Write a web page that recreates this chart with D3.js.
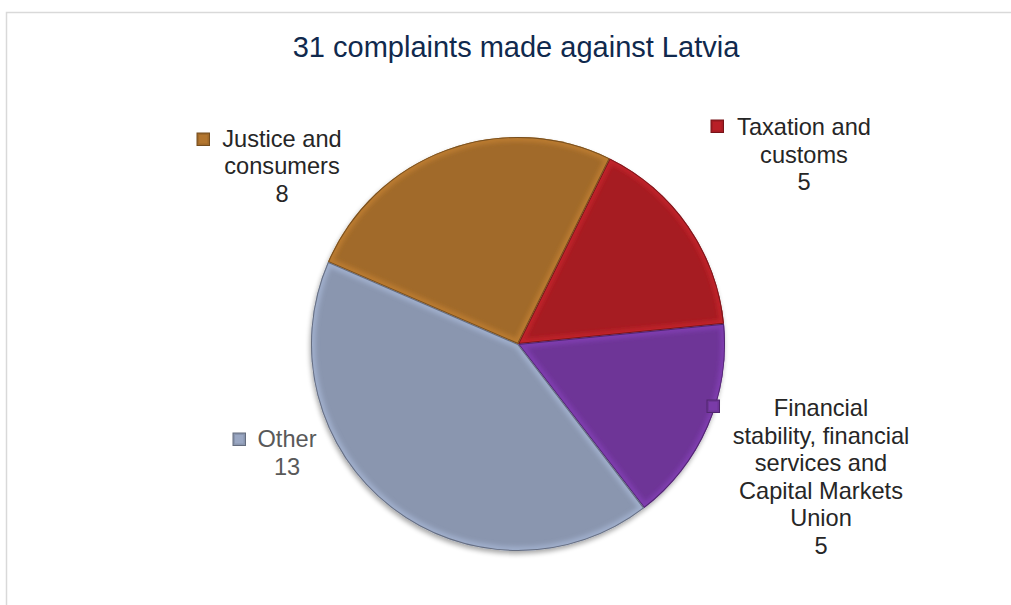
<!DOCTYPE html>
<html>
<head>
<meta charset="utf-8">
<script src="https://cdn.jsdelivr.net/npm/d3@7"></script>
<style>
  html, body { margin: 0; padding: 0; background: #fff; }
  svg { display: block; }
  text { font-family: "Liberation Sans", Arial, sans-serif; }
</style>
</head>
<body>
<div id="chart"></div>
<script>
// ---- data ----
const title = "31 complaints made against Latvia";
const categories = [
  "Taxation and customs",
  "Financial stability, financial services and Capital Markets Union",
  "Other",
  "Justice and consumers"
];
const values = [5, 5, 13, 8];
const labelLines = [
  ["Taxation and", "customs"],
  ["Financial", "stability, financial", "services and", "Capital Markets", "Union"],
  ["Other"],
  ["Justice and", "consumers"]
];
const colors = ["#A61C23", "#6E3597", "#8A96AF", "#A16A2A"];
const textColors = ["#262626", "#262626", "#595959", "#262626"];

// ---- layout ----
const W = 1011, H = 605;
const cx = 518, cy = 344, R = 207;
const startDeg = 26.3;
const labelPos = [
  { x: 804, y: 135, mx: 711, my: 120 },
  { x: 821, y: 416, mx: 707, my: 400 },
  { x: 287, y: 447, mx: 233, my: 433 },
  { x: 282, y: 146.5, mx: 197, my: 133 }
];
const lineStep = 27.5;

const svg = d3.select("#chart").append("svg").attr("width", W).attr("height", H);
const defs = svg.append("defs");

// soft blur for inner bevel highlight
const soft = defs.append("filter").attr("id", "soft")
  .attr("x", "-10%").attr("y", "-10%").attr("width", "120%").attr("height", "120%");
soft.append("feGaussianBlur").attr("stdDeviation", 2.2);

// drop shadow
const shadow = defs.append("filter").attr("id", "shadow")
  .attr("x", "-20%").attr("y", "-20%").attr("width", "140%").attr("height", "140%");
shadow.append("feGaussianBlur").attr("in", "SourceAlpha").attr("stdDeviation", 2.5).attr("result", "b");
shadow.append("feOffset").attr("in", "b").attr("dx", -1).attr("dy", 3).attr("result", "o");
shadow.append("feComponentTransfer").attr("in", "o").attr("result", "o2")
  .append("feFuncA").attr("type", "linear").attr("slope", 0.35);
const merge = shadow.append("feMerge");
merge.append("feMergeNode").attr("in", "o2");
merge.append("feMergeNode").attr("in", "SourceGraphic");

// border
svg.append("rect").attr("x", 6.5).attr("y", 12.5).attr("width", W + 10).attr("height", H + 10)
  .attr("fill", "none").attr("stroke", "#d9d9d9").attr("stroke-width", 1.5);

// title
svg.append("text").attr("x", 516).attr("y", 57).attr("text-anchor", "middle")
  .attr("font-size", 29).attr("fill", "#10294D").text(title);

// pie
const data = categories.map((c, i) => ({ c, v: values[i], i }));
const pie = d3.pie().value(d => d.v).sort(null)
  .startAngle(startDeg * Math.PI / 180).endAngle(startDeg * Math.PI / 180 + 2 * Math.PI);
const arc = d3.arc().innerRadius(0).outerRadius(R);
const arcs = pie(data);

const g = svg.append("g").attr("transform", `translate(${cx},${cy})`);
const base = g.append("g").attr("filter", "url(#shadow)");
base.selectAll("path").data(arcs).join("path")
  .attr("d", arc)
  .attr("fill", d => colors[d.data.i]);

// bevel: clipped blurred lighter inner stroke
arcs.forEach((d, k) => {
  const id = "clip" + k;
  defs.append("clipPath").attr("id", id).append("path")
    .attr("d", arc(d)).attr("transform", `translate(${cx},${cy})`);
  const sg = svg.append("g").attr("clip-path", `url(#${id})`)
    .append("g").attr("transform", `translate(${cx},${cy})`);
  sg.append("path").attr("d", arc(d))
    .attr("fill", "none")
    .attr("stroke", d3.color(colors[d.data.i]).brighter(0.7))
    .attr("stroke-width", 9).attr("stroke-opacity", 0.55)
    .attr("filter", "url(#soft)");
  sg.append("path").attr("d", arc(d))
    .attr("fill", "none")
    .attr("stroke", d3.color(colors[d.data.i]).darker(1.3))
    .attr("stroke-width", 2).attr("stroke-opacity", 0.8);
});

// labels
const lg = svg.append("g");
data.forEach((d, i) => {
  const p = labelPos[i];
  const lines = labelLines[i].concat([String(values[i])]);
  const t = lg.append("text").attr("text-anchor", "middle").attr("font-size", 23.6)
    .attr("fill", textColors[i]);
  lines.forEach((ln, k) => {
    t.append("tspan").attr("x", p.x).attr("y", p.y + k * lineStep).text(ln);
  });
  lg.append("rect").attr("x", p.mx).attr("y", p.my).attr("width", 12.5).attr("height", 12.5)
    .attr("fill", colors[i]).attr("stroke", d3.color(colors[i]).darker(0.9)).attr("stroke-width", 1);
  lg.append("rect").attr("x", p.mx + 2).attr("y", p.my + 2).attr("width", 8.5).attr("height", 8.5)
    .attr("fill", d3.color(colors[i]).brighter(0.3));
});
</script>
</body>
</html>
